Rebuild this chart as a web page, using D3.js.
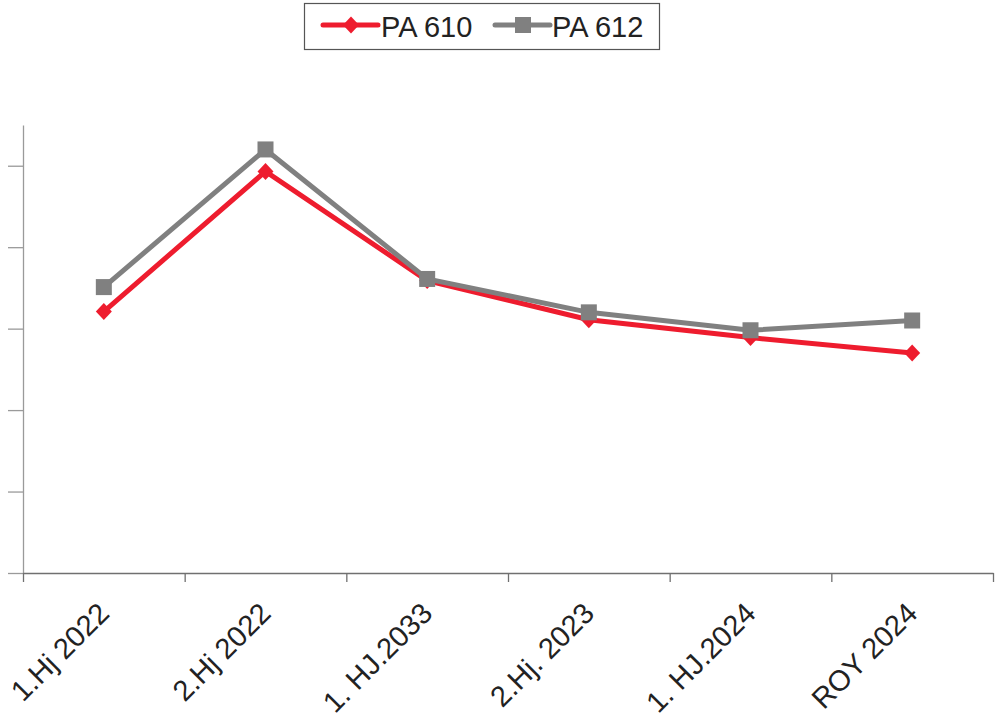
<!DOCTYPE html>
<html>
<head>
<meta charset="utf-8">
<script src="https://cdn.jsdelivr.net/npm/d3@7"></script>
<style>
  html, body { margin: 0; padding: 0; background: #fff; }
  svg { display: block; font-family: "Liberation Sans", Arial, sans-serif; }
</style>
</head>
<body>
<svg id="chart" width="997" height="721"></svg>
<script>
const categories = ["1.Hj 2022", "2.Hj 2022", "1. HJ.2033", "2.Hj. 2023", "1. HJ.2024", "ROY 2024"];
const pa610 = [3.21, 4.93, 3.59, 3.11, 2.89, 2.70];
const pa612 = [3.51, 5.20, 3.61, 3.20, 2.98, 3.10];
const seriesNames = ["PA 610", "PA 612"];
const yTicks = [0, 1, 2, 3, 4, 5];

const svg = d3.select("#chart");
const mLeft = 23, mRight = 993, mTop = 125, mBottom = 573;

const x = d3.scaleBand().domain(categories).range([mLeft, mRight]).padding(0);
const xEdges = d3.scaleLinear().domain([0, categories.length]).range([mLeft, mRight]);
const y = d3.scaleLinear().domain([0, 5.5]).range([mBottom, mTop]);

// Y axis
const yAxis = svg.append("g").attr("transform", `translate(${mLeft},0)`)
  .call(d3.axisLeft(y).tickValues(yTicks).tickFormat("").tickSize(15).tickSizeOuter(0));
yAxis.selectAll("path, line").attr("stroke", "#9a9a9a").attr("stroke-width", 1.3);

// X axis
const xAxis = svg.append("g").attr("transform", `translate(0,${mBottom})`)
  .call(d3.axisBottom(xEdges).tickValues(d3.range(categories.length + 1)).tickFormat("").tickSize(9).tickSizeOuter(0));
xAxis.selectAll("path, line").attr("stroke", "#707070").attr("stroke-width", 1.3);

// X labels
svg.append("g").selectAll("text").data(categories).join("text")
  .attr("transform", d => `translate(${x(d) + x.bandwidth() / 2 + 7},615) rotate(-45)`)
  .attr("text-anchor", "end")
  .attr("font-size", 29)
  .attr("fill", "#222")
  .text(d => d);

const series = [
  { name: seriesNames[0], values: pa610, color: "#ee1c2e", shape: "diamond" },
  { name: seriesNames[1], values: pa612, color: "#808080", shape: "square" }
];

const line = d3.line().x((d, i) => x(categories[i]) + x.bandwidth() / 2).y(d => y(d));

function drawMarker(g, shape, color) {
  if (shape === "diamond") {
    g.append("path").attr("d", "M0,-8.5L8,0L0,8.5L-8,0Z").attr("fill", color);
  } else {
    g.append("rect").attr("x", -8).attr("y", -8).attr("width", 16).attr("height", 16).attr("fill", color);
  }
}

series.forEach(s => {
  svg.append("path").datum(s.values)
    .attr("d", line).attr("fill", "none")
    .attr("stroke", s.color).attr("stroke-width", 5).attr("stroke-linejoin", "miter");
  s.values.forEach((v, i) => {
    const g = svg.append("g").attr("transform", `translate(${x(categories[i]) + x.bandwidth() / 2},${y(v)})`);
    drawMarker(g, s.shape, s.color);
  });
});

// Legend
const lg = svg.append("g");
lg.append("rect").attr("x", 304.5).attr("y", 3.5).attr("width", 355).attr("height", 46)
  .attr("fill", "#fff").attr("stroke", "#555").attr("stroke-width", 1.2);
const legendItems = [
  { s: series[0], x0: 323, tx: 381 },
  { s: series[1], x0: 495, tx: 552 }
];
legendItems.forEach(it => {
  lg.append("line").attr("x1", it.x0).attr("x2", it.x0 + 55).attr("y1", 25).attr("y2", 25)
    .attr("stroke", it.s.color).attr("stroke-width", 5).attr("stroke-linecap", "round");
  const g = lg.append("g").attr("transform", `translate(${it.x0 + 28},25)`);
  drawMarker(g, it.s.shape, it.s.color);
  lg.append("text").attr("x", it.tx).attr("y", 36.5).attr("font-size", 29).attr("fill", "#222").text(it.s.name);
});
</script>
</body>
</html>
